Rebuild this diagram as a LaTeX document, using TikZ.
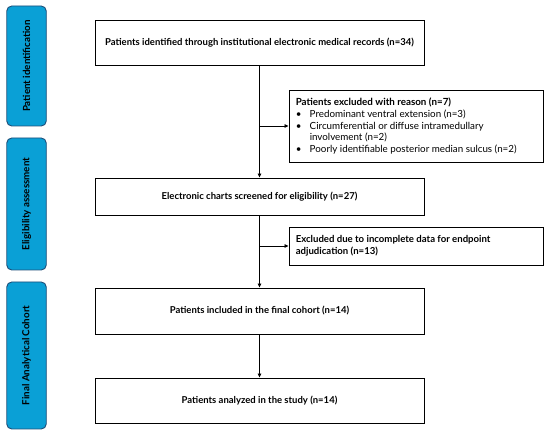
\documentclass[tikz,border=0pt]{standalone}
\usepackage{fontspec}
\setmainfont{Lato}
\usetikzlibrary{arrows.meta}
\definecolor{sideblue}{HTML}{0AA0D6}
\definecolor{sideedge}{HTML}{1F4E79}
\begin{document}
\begin{tikzpicture}[x=1pt,y=-1pt,
  mainbox/.style={draw=black,line width=0.9pt,minimum width=329pt,inner sep=0pt,font=\fontsize{9.5}{11}\selectfont\bfseries},
  sidebox/.style={draw=sideedge,fill=sideblue,line width=0.9pt,rounded corners=5pt,minimum width=39.5pt,inner sep=0pt},
  sidetext/.style={rotate=90,font=\fontsize{9.8}{11}\selectfont\bfseries},
  exbox/.style={draw=black,line width=0.9pt,minimum width=254pt,inner sep=0pt},
  flow/.style={line width=0.8pt,-{Triangle[length=4pt,width=3.5pt]}}]
\useasboundingbox (0,0) rectangle (550,435);
% side boxes
\node[sidebox,minimum height=120pt] (s1) at (26.5,66) {};
\node[sidetext] (s1t) at (s1.center) {Patient identification};
\node[sidebox,minimum height=132pt] (s2) at (26.5,204) {};
\node[sidetext] (s2t) at (s2.center) {Eligibility assessment};
\node[sidebox,minimum height=147pt] (s3) at (26.5,355.5) {};
\node[sidetext] (s3t) at (s3.center) {Final Analytical Cohort};
% main boxes
\node[mainbox,minimum height=45pt] (a) at (259.5,42.5) {Patients identified through institutional electronic medical records (n=34)};
\node[mainbox,minimum height=37pt] (b) at (259.5,196.5) {Electronic charts screened for eligibility (n=27)};
\node[mainbox,minimum height=46pt] (c) at (259.5,311) {Patients included in the final cohort (n=14)};
\node[mainbox,minimum height=45pt] (d) at (259.5,400.5) {Patients analyzed in the study (n=14)};
% exclusion boxes
\node[exbox,minimum height=72pt] (e1) at (416,126) {};
\node[anchor=west,align=left,inner sep=0pt,font=\fontsize{9.8}{11.7}\selectfont] (e1t) at ([xshift=7pt]e1.west) {%
\textbf{Patients excluded with reason (n=7)}\\
\makebox[14pt][l]{\textbullet}Predominant ventral extension (n=3)\\
\makebox[14pt][l]{\textbullet}Circumferential or diffuse intramedullary\\
\hspace*{14pt}involvement (n=2)\\
\makebox[14pt][l]{\textbullet}Poorly identifiable posterior median sulcus (n=2)};
\node[exbox,minimum height=38pt] (e2) at (416,246) {};
\node[anchor=west,align=left,inner sep=0pt,font=\fontsize{9.6}{12}\selectfont\bfseries] (e2t) at ([xshift=7pt]e2.west) {%
Excluded due to incomplete data for endpoint\\adjudication (n=13)};
% connectors
\coordinate (j1) at (a.south |- e1.west);
\coordinate (j2) at (a.south |- e2.west);
\draw[flow] (a.south) -- (b.north);
\draw[flow] (j1) -- (e1.west);
\draw[flow] (b.south) -- (c.north);
\draw[flow] (j2) -- (e2.west);
\draw[flow] (c.south) -- (d.north);
\end{tikzpicture}
\end{document}
